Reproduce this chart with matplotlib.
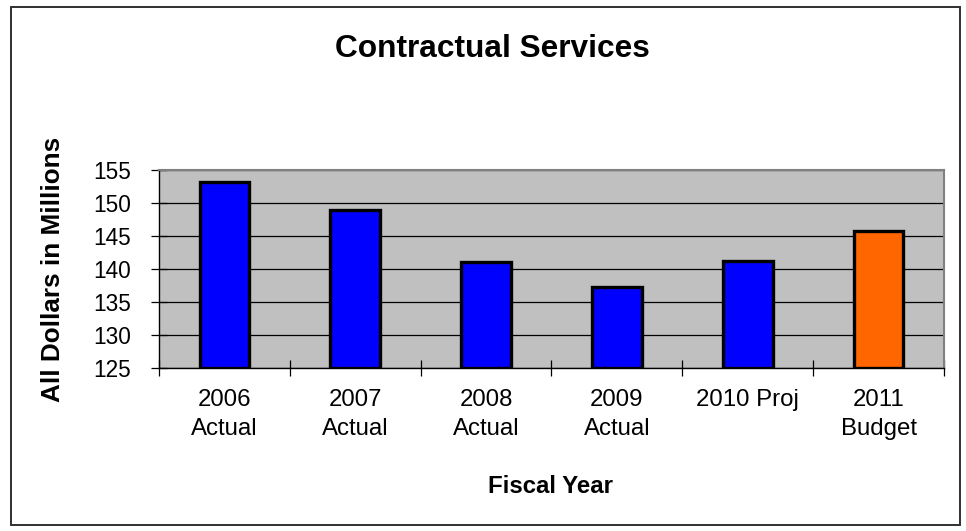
import matplotlib
matplotlib.use("Agg")
import matplotlib.pyplot as plt
from matplotlib.patches import Rectangle

plt.rcParams['font.family'] = ['Liberation Sans', 'DejaVu Sans']

# Contractual services spending by fiscal year (millions of dollars)
categories = ["2006\nActual", "2007\nActual", "2008\nActual", "2009\nActual", "2010 Proj", "2011\nBudget"]
values = [153.2, 149.0, 141.0, 137.3, 141.2, 145.7]
bar_colors = ["#0000FF", "#0000FF", "#0000FF", "#0000FF", "#0000FF", "#FF6600"]
y_ticks = [125, 130, 135, 140, 145, 150, 155]

W, H = 966, 531
fig = plt.figure(figsize=(W / 100, H / 100), dpi=100)
fig.patch.set_facecolor("white")

# chart frame
fig.patches.append(Rectangle((11 / W, 1 - 525 / H), 949 / W, 518 / H,
                             transform=fig.transFigure, fill=False,
                             edgecolor="#303030", linewidth=1.4))

ax = fig.add_axes([159 / W, 1 - 368 / H, (944 - 159) / W, 198 / H])
ax.set_facecolor("#C0C0C0")

x = list(range(len(categories)))
ax.bar(x, [v - y_ticks[0] for v in values], bottom=y_ticks[0], width=0.38,
       color=bar_colors, edgecolor="black", linewidth=2.4, zorder=3)

ax.set_xlim(-0.5, len(categories) - 0.5)
ax.set_ylim(y_ticks[0], y_ticks[-1])
ax.set_yticks(y_ticks)
ax.set_yticklabels([str(t) for t in y_ticks], fontsize=16.3)
ax.yaxis.grid(True, color="black", linewidth=0.9, zorder=1)
ax.set_axisbelow(True)

# category ticks sit on the boundaries between bars
ax.set_xticks([i - 0.5 for i in range(len(categories) + 1)])
ax.set_xticklabels([])
ax.set_xticks(x, minor=True)
ax.set_xticklabels(categories, minor=True, fontsize=17.3, linespacing=1.4, va="top")
ax.tick_params(axis="x", which="minor", length=0, pad=15)
ax.tick_params(axis="x", which="major", direction="inout", length=12, width=0.9, color="black")
ax.tick_params(axis="y", direction="inout", length=12, width=0.9, color="black", pad=14)

for side in ("left", "bottom"):
    ax.spines[side].set_color("black")
    ax.spines[side].set_linewidth(1.0)
for side in ("top", "right"):
    ax.spines[side].set_color("#808080")
    ax.spines[side].set_linewidth(1.5)

fig.text(492 / W, 1 - 57 / H, "Contractual Services", ha="center", va="baseline",
         fontsize=22.8, fontweight="bold")
fig.text(53 / W, 1 - 269 / H, "All Dollars in Millions", ha="center", va="center",
         rotation=90, fontsize=18.8, fontweight="bold")
fig.text(551 / W, 1 - 493 / H, "Fiscal Year", ha="center", va="baseline",
         fontsize=17.3, fontweight="bold")

fig.savefig("out.png", dpi=100)
